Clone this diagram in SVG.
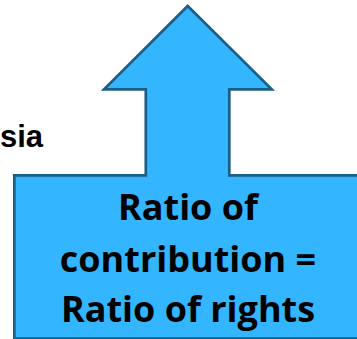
<svg xmlns="http://www.w3.org/2000/svg" width="357" height="339" viewBox="0 0 357 339">
<style>
.shape{fill:#33b5ff;stroke:#1b5e86;stroke-width:2.7;stroke-linejoin:miter}
.lbl{font-family:"Open Sans",Lato,sans-serif;font-weight:bold;font-size:36px;fill:#000;text-anchor:middle}
.side{font-family:"Liberation Sans",Arial,sans-serif;font-weight:bold;font-size:31px;fill:#000;text-anchor:end}
</style>
<rect width="357" height="339" fill="#fff"/>
<g id="side-text">
<text class="side" x="43" y="146.5">sia</text>
</g>
<g id="arrow-box">
<path class="shape" d="M187.7 6 L271.8 89.3 L229.3 89.3 L229.3 175.3 L370 175.3 L370 338.6 L14.3 338.6 L14.3 175.3 L145.8 175.3 L145.8 89.3 L104 89.3 Z"/>
<text class="lbl" x="188" y="220">Ratio of</text>
<text class="lbl" x="188" y="271.5">contribution =</text>
<text class="lbl" x="188" y="321.5">Ratio of rights</text>
</g>
</svg>
